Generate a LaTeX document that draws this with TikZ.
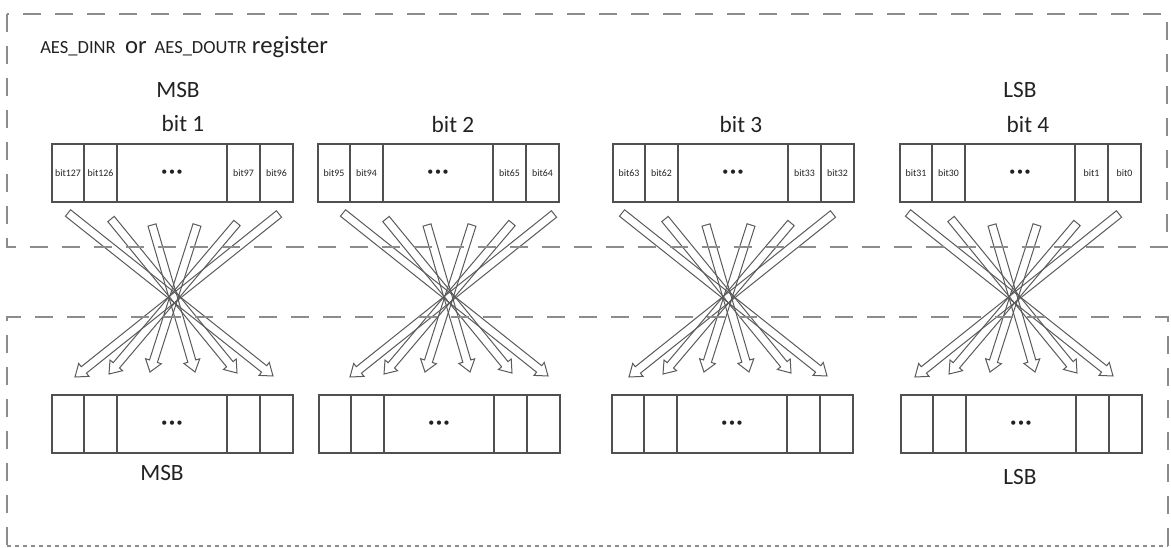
\documentclass[tikz,border=0pt]{standalone}
\usepackage{fontspec}
\setmainfont{Carlito}
\usetikzlibrary{calc}
\definecolor{boxline}{HTML}{505050}
\definecolor{dashline}{HTML}{8C8C8C}
\definecolor{arrline}{HTML}{5A5A5A}
\definecolor{txt}{HTML}{222222}
\newcommand\dotsx{\textbullet\kern1.2pt\textbullet\kern1.2pt\textbullet}
\newcommand\regrow[6]{%
  \node[cellA] (#1c1) at (#2) {#3};
  \node[cellB] (#1c2) at (#1c1.north east) {#4};
  \node[cellC] (#1c3) at (#1c2.north east) {\dotsx};
  \node[cellB] (#1c4) at (#1c3.north east) {#5};
  \node[cellB] (#1c5) at (#1c4.north east) {#6};
}
\newcommand\hollowarr[3]{%
  \coordinate (#3) at ($(#2)!8.5pt!(#1)$);
  \draw[arrowbody] ($(#1)!3.1pt!90:(#2)$) -- ($(#3)!3.1pt!90:(#2)$) -- ($(#3)!6.2pt!90:(#2)$) -- (#2) -- ($(#3)!6.2pt!-90:(#2)$) -- ($(#3)!3.1pt!-90:(#2)$) -- ($(#1)!3.1pt!-90:(#2)$) -- cycle;
}
\begin{document}
\begin{tikzpicture}[x=0.75pt,y=-0.75pt,
  cellbase/.style={draw=boxline, line width=0.8pt, rectangle, inner sep=0pt, outer sep=0pt, minimum height=43.5pt, font=\fontsize{7.4}{8}\selectfont, text=txt, anchor=north west},
  cellA/.style={cellbase, minimum width=24pt},
  cellB/.style={cellbase, minimum width=24.75pt},
  cellC/.style={cellbase, minimum width=82.5pt, font=\fontsize{9}{9}\selectfont},
  lbl/.style={font=\fontsize{17.5}{20}\selectfont, text=txt, inner sep=0pt},
  regionbox/.style={draw=dashline, line width=1.1pt, dash pattern=on 13.5pt off 10.5pt},
  arrowbody/.style={draw=arrline, line width=0.75pt, line join=miter}
]
\useasboundingbox (0,0) rectangle (1171,548);

% arrows
\foreach \s [count=\g] in {0,275,554,840} {
  \foreach \tx/\ty/\hx/\hy [count=\i] in {68/213/273/376, 111/219/237/373, 152/225/195/372, 197/225/150/372, 237/223/109/374, 279/214/75/377} {
    \coordinate (g\g a\i) at (\tx+\s,\ty);
    \coordinate (g\g h\i) at (\hx+\s,\hy);
    \hollowarr{g\g a\i}{g\g h\i}{g\g m\i}
  }
}

% dashed regions
\draw[regionbox] (7,14) rectangle (1167,247);
\draw[regionbox] (1168,546) -- (1168,317) -- (7,317) -- (7,546);
\draw[draw=dashline, line width=1pt, dash pattern=on 3pt off 3pt] (7,546) -- (1168,546);

% header
\node[anchor=base west, inner sep=0pt, text=txt, font=\fontsize{18.5}{19}\selectfont] (hdr) at (40,54)
  {{\fontsize{13.9}{14}\selectfont AES\_DINR}\hspace{7pt}or\hspace{6pt}{\fontsize{13.9}{14}\selectfont AES\_DOUTR}\hspace{4pt}register};

% labels
\node[lbl] (msbtop) at (178,90) {MSB};
\node[lbl] (bit1) at (183,123) {bit 1};
\node[lbl] (bit2) at (453,124) {bit 2};
\node[lbl] (bit3) at (741,124) {bit 3};
\node[lbl] (lsbtop) at (1020,90) {LSB};
\node[lbl] (bit4) at (1028,124) {bit 4};
\node[lbl] (msbbot) at (162,473) {MSB};
\node[lbl] (lsbbot) at (1020,477) {LSB};

% top registers
\regrow{t1}{52,144}{bit127}{bit126}{bit97}{bit96}
\regrow{t2}{318,144}{bit95}{bit94}{bit65}{bit64}
\regrow{t3}{613,144}{bit63}{bit62}{bit33}{bit32}
\regrow{t4}{900,144}{bit31}{bit30}{bit1}{bit0}

% bottom registers
\regrow{b1}{52,395}{}{}{}{}
\regrow{b2}{319,395}{}{}{}{}
\regrow{b3}{612,395}{}{}{}{}
\regrow{b4}{901,395}{}{}{}{}
\end{tikzpicture}
\end{document}
